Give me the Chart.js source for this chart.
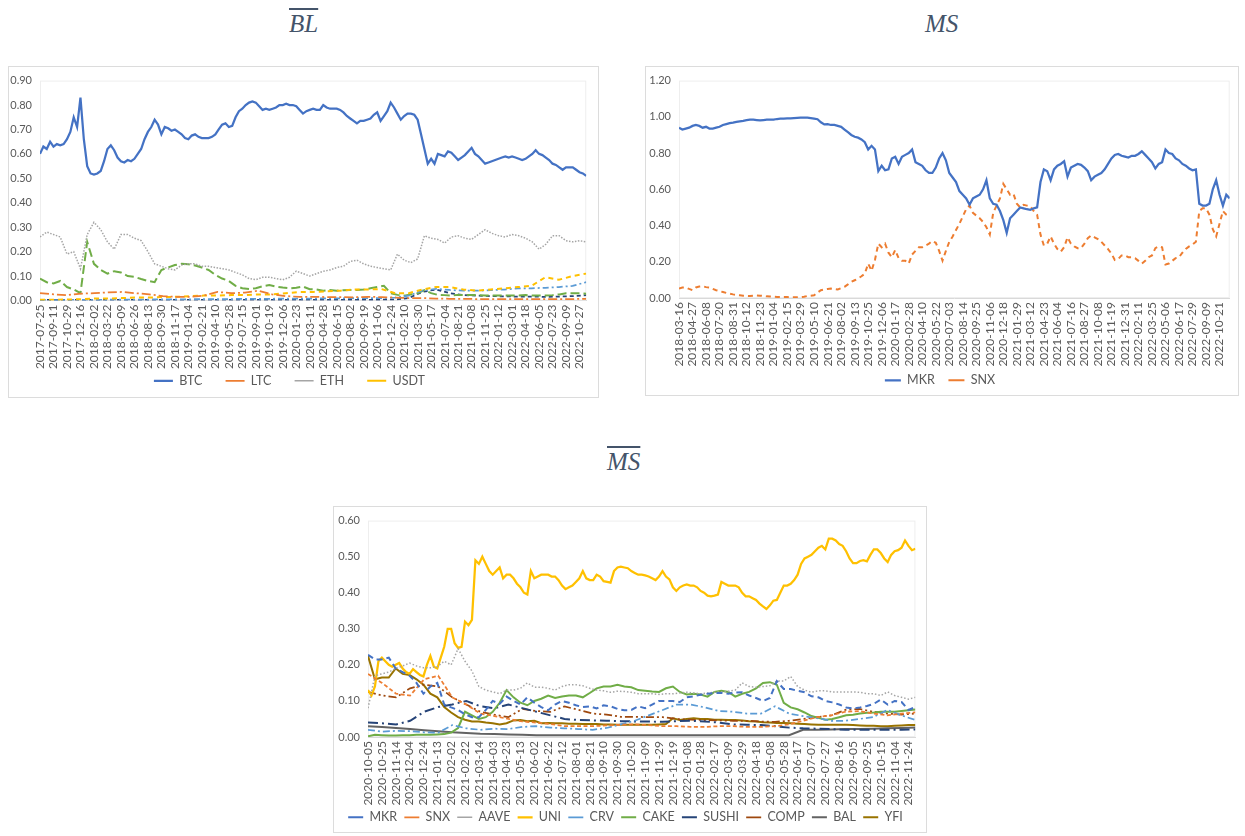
<!DOCTYPE html>
<html lang="en">

<head>
    <meta charset="UTF-8" />
    <title>BL / MS / MS panels</title>
    <script src="https://cdn.jsdelivr.net/npm/chart.js"></script>
    <style>
        body {
            margin: 0;
            background: #ffffff;
            width: 1245px;
            height: 836px;
            position: relative;
            overflow: hidden;
        }

        .box {
            position: absolute;
            border: 1px solid #dcdcdc;
            box-sizing: border-box;
            background: #ffffff;
        }

        canvas {
            position: absolute;
        }

        .ttl {
            position: absolute;
            font-family: "Liberation Serif", serif;
            font-style: italic;
            font-size: 25px;
            color: #44546a;
            line-height: 1;
        }

        .ttl span {
            text-decoration: overline;
            text-decoration-thickness: 2px;
        }
    </style>
</head>

<body>
    <div class="ttl" style="left:289px; top:11px"><span>BL</span></div>
    <div class="ttl" style="left:925px; top:11px">MS</div>
    <div class="ttl" style="left:607px; top:449px"><span>MS</span></div>

    <div class="box" style="left:8px; top:66px; width:591px; height:332px"></div>
    <div class="box" style="left:645px; top:66px; width:594px; height:330px"></div>
    <div class="box" style="left:333px; top:506px; width:594px; height:327px"></div>

    <canvas id="blChart" width="590" height="331" style="left:8px; top:66px"></canvas>
    <canvas id="msChart" width="593" height="331" style="left:645px; top:66px"></canvas>
    <canvas id="msBarChart" width="594" height="330" style="left:333px; top:506px"></canvas>

    <script>
        const FONT = "Lato, 'Liberation Sans', sans-serif";

        // ---- BL panel (48-day tick spacing) ----
        const blLabels = ['2017-07-25', '2017-09-11', '2017-10-29', '2017-12-16', '2018-02-02', '2018-03-22', '2018-05-09',
            '2018-06-26', '2018-08-13', '2018-09-30', '2018-11-17', '2019-01-04', '2019-02-21', '2019-04-10', '2019-05-28',
            '2019-07-15', '2019-09-01', '2019-10-19', '2019-12-06', '2020-01-23', '2020-03-11', '2020-04-28', '2020-06-15',
            '2020-08-02', '2020-09-19', '2020-11-06', '2020-12-24', '2021-02-10', '2021-03-30', '2021-05-17', '2021-07-04',
            '2021-08-21', '2021-10-08', '2021-11-25', '2022-01-12', '2022-03-01', '2022-04-18', '2022-06-05', '2022-07-23',
            '2022-09-09', '2022-10-27'];
        const blEnd = 40.5;

        const btc = [0.60, 0.63, 0.62, 0.65, 0.63, 0.64, 0.635, 0.64, 0.66, 0.69, 0.75, 0.71, 0.83, 0.66, 0.55, 0.52, 0.515, 0.52, 0.53, 0.57,
            0.62, 0.635, 0.615, 0.585, 0.57, 0.565, 0.575, 0.57, 0.58, 0.60, 0.62, 0.66, 0.69, 0.71, 0.74, 0.72, 0.68, 0.71, 0.705, 0.695,
            0.70, 0.69, 0.68, 0.665, 0.66, 0.675, 0.68, 0.67, 0.665, 0.665, 0.665, 0.67, 0.68, 0.70, 0.72, 0.725, 0.71, 0.715, 0.75, 0.775,
            0.785, 0.80, 0.81, 0.815, 0.81, 0.795, 0.78, 0.785, 0.78, 0.785, 0.79, 0.80, 0.80, 0.805, 0.80, 0.80, 0.795, 0.78, 0.765, 0.775,
            0.78, 0.785, 0.78, 0.78, 0.80, 0.79, 0.785, 0.785, 0.785, 0.78, 0.77, 0.755, 0.745, 0.735, 0.725, 0.735, 0.735, 0.74, 0.745, 0.76,
            0.77, 0.735, 0.755, 0.775, 0.81, 0.79, 0.765, 0.74, 0.755, 0.765, 0.765, 0.76, 0.74, 0.68, 0.62, 0.56, 0.58, 0.56, 0.60, 0.595,
            0.59, 0.61, 0.605, 0.59, 0.575, 0.585, 0.595, 0.61, 0.625, 0.60, 0.59, 0.575, 0.56, 0.565, 0.57, 0.575, 0.58, 0.585, 0.59, 0.585,
            0.59, 0.585, 0.58, 0.575, 0.58, 0.59, 0.60, 0.615, 0.60, 0.595, 0.585, 0.575, 0.56, 0.555, 0.545, 0.535, 0.545, 0.545, 0.545, 0.535,
            0.525, 0.52, 0.51];
        const ltc = [0.030, 0.025, 0.022, 0.028, 0.030, 0.033, 0.035, 0.030, 0.025, 0.018,
            0.015, 0.015, 0.020, 0.035, 0.030, 0.032, 0.040, 0.025, 0.018, 0.015,
            0.015, 0.014, 0.014, 0.013, 0.015, 0.014, 0.012, 0.010, 0.010, 0.008,
            0.007, 0.007, 0.006, 0.006, 0.006, 0.006, 0.006, 0.006, 0.006, 0.006, 0.007];
        const eth = [0.26, 0.28, 0.27, 0.26, 0.19, 0.20, 0.13, 0.27, 0.32, 0.29, 0.24, 0.21, 0.27, 0.27, 0.255, 0.245, 0.20, 0.15, 0.14, 0.13,
            0.125, 0.145, 0.15, 0.15, 0.14, 0.14, 0.135, 0.13, 0.125, 0.115, 0.105, 0.09, 0.085, 0.095, 0.095, 0.09, 0.085, 0.095, 0.12, 0.11,
            0.10, 0.11, 0.12, 0.125, 0.135, 0.14, 0.16, 0.165, 0.15, 0.14, 0.135, 0.13, 0.125, 0.19, 0.165, 0.155, 0.17, 0.265, 0.255, 0.25,
            0.235, 0.26, 0.265, 0.255, 0.25, 0.27, 0.29, 0.275, 0.265, 0.26, 0.27, 0.265, 0.255, 0.24, 0.21, 0.23, 0.265, 0.265, 0.245, 0.24,
            0.245, 0.24];
        const usdt = [0.003, 0.003, 0.004, 0.005, 0.008, 0.008, 0.010, 0.012, 0.012, 0.014,
            0.015, 0.018, 0.02, 0.02, 0.022, 0.022, 0.025, 0.025, 0.03, 0.035,
            0.035, 0.038, 0.04, 0.045, 0.045, 0.047, 0.03, 0.03, 0.045, 0.055,
            0.055, 0.045, 0.04, 0.045, 0.05, 0.055, 0.06, 0.095, 0.085, 0.10, 0.11];
        const blFifth = [0.002, 0.002, 0.002, 0.003, 0.003, 0.003, 0.004, 0.004, 0.004, 0.005,
            0.005, 0.005, 0.006, 0.006, 0.006, 0.007, 0.007, 0.007, 0.008, 0.008,
            0.008, 0.009, 0.009, 0.01, 0.01, 0.01, 0.012, 0.02, 0.04, 0.048,
            0.043, 0.04, 0.04, 0.042, 0.045, 0.05, 0.05, 0.052, 0.055, 0.06, 0.075];
        const blSixth = [0.09, 0.075, 0.07, 0.08, 0.055, 0.045, 0.03, 0.24, 0.15, 0.125, 0.11, 0.12, 0.115, 0.10, 0.097, 0.088, 0.08, 0.075, 0.125, 0.135,
            0.145, 0.15, 0.148, 0.143, 0.135, 0.125, 0.105, 0.09, 0.08, 0.06, 0.05, 0.047, 0.05, 0.058, 0.063, 0.057, 0.053, 0.05, 0.052, 0.057,
            0.046, 0.045, 0.04, 0.043, 0.04, 0.042, 0.043, 0.043, 0.045, 0.05, 0.055, 0.06, 0.03, 0.023, 0.02, 0.025, 0.03, 0.043, 0.03, 0.023,
            0.022, 0.02, 0.023, 0.023, 0.023, 0.022, 0.02, 0.02, 0.02, 0.02, 0.02, 0.02, 0.022, 0.02, 0.02, 0.02, 0.022, 0.025, 0.03, 0.03,
            0.03, 0.028];
        const blSeventh = [0.003, 0.003, 0.003, 0.003, 0.003, 0.003, 0.003, 0.003, 0.003, 0.003,
            0.003, 0.003, 0.003, 0.003, 0.003, 0.003, 0.003, 0.003, 0.003, 0.003,
            0.003, 0.003, 0.003, 0.003, 0.003, 0.003, 0.004, 0.01, 0.035, 0.045,
            0.03, 0.022, 0.02, 0.018, 0.017, 0.016, 0.016, 0.015, 0.016, 0.018, 0.022];

        // ---- MS panel (42-day tick spacing) ----
        const msLabels = ['2018-03-16', '2018-04-27', '2018-06-08', '2018-07-20', '2018-08-31', '2018-10-12', '2018-11-23',
            '2019-01-04', '2019-02-15', '2019-03-29', '2019-05-10', '2019-06-21', '2019-08-02', '2019-09-13', '2019-10-25',
            '2019-12-06', '2020-01-17', '2020-02-28', '2020-04-10', '2020-05-22', '2020-07-03', '2020-08-14', '2020-09-25',
            '2020-11-06', '2020-12-18', '2021-01-29', '2021-03-12', '2021-04-23', '2021-06-04', '2021-07-16', '2021-08-27',
            '2021-10-08', '2021-11-19', '2021-12-31', '2022-02-11', '2022-03-25', '2022-05-06', '2022-06-17', '2022-07-29',
            '2022-09-09', '2022-10-21'];
        const msEnd = 40.75;

        const mkr = [0.94, 0.93, 0.935, 0.94, 0.95, 0.955, 0.95, 0.94, 0.945, 0.935, 0.935, 0.94, 0.945, 0.955, 0.96, 0.965, 0.968, 0.972, 0.975, 0.978,
            0.982, 0.985, 0.984, 0.982, 0.98, 0.982, 0.984, 0.985, 0.985, 0.988, 0.99, 0.99, 0.991, 0.992, 0.993, 0.994, 0.995, 0.996, 0.995, 0.993,
            0.99, 0.987, 0.97, 0.958, 0.96, 0.955, 0.955, 0.95, 0.945, 0.93, 0.915, 0.90, 0.89, 0.885, 0.875, 0.86, 0.82, 0.84, 0.82, 0.70,
            0.73, 0.705, 0.71, 0.77, 0.78, 0.74, 0.78, 0.79, 0.80, 0.82, 0.75, 0.74, 0.73, 0.705, 0.69, 0.69, 0.72, 0.77, 0.80, 0.76,
            0.69, 0.665, 0.64, 0.59, 0.57, 0.55, 0.515, 0.55, 0.56, 0.57, 0.60, 0.65, 0.55, 0.52, 0.515, 0.48, 0.43, 0.36, 0.44, 0.46,
            0.48, 0.50, 0.495, 0.49, 0.487, 0.495, 0.50, 0.64, 0.71, 0.70, 0.65, 0.71, 0.73, 0.74, 0.755, 0.67, 0.72, 0.73, 0.74, 0.735,
            0.72, 0.70, 0.65, 0.67, 0.68, 0.69, 0.71, 0.74, 0.77, 0.79, 0.795, 0.785, 0.78, 0.775, 0.785, 0.785, 0.795, 0.81, 0.79, 0.77,
            0.75, 0.715, 0.74, 0.75, 0.82, 0.80, 0.795, 0.77, 0.76, 0.74, 0.73, 0.715, 0.705, 0.71, 0.52, 0.51, 0.51, 0.52, 0.60, 0.65,
            0.57, 0.51, 0.57, 0.55];
        const snx = [0.052, 0.058, 0.058, 0.05, 0.043, 0.058, 0.063, 0.065, 0.06, 0.058, 0.05, 0.043, 0.038, 0.033, 0.028, 0.024, 0.02, 0.017, 0.015, 0.013,
            0.012, 0.011, 0.012, 0.014, 0.013, 0.011, 0.009, 0.008, 0.007, 0.006, 0.006, 0.005, 0.005, 0.004, 0.004, 0.004, 0.005, 0.007, 0.011, 0.013,
            0.015, 0.03, 0.043, 0.047, 0.05, 0.052, 0.05, 0.047, 0.055, 0.062, 0.075, 0.089, 0.098, 0.107, 0.12, 0.134, 0.19, 0.15, 0.21, 0.30,
            0.28, 0.30, 0.25, 0.225, 0.265, 0.22, 0.205, 0.205, 0.19, 0.24, 0.26, 0.28, 0.28, 0.29, 0.30, 0.315, 0.305, 0.26, 0.206, 0.26,
            0.31, 0.34, 0.375, 0.41, 0.45, 0.49, 0.51, 0.47, 0.455, 0.44, 0.42, 0.39, 0.35, 0.47, 0.51, 0.55, 0.63, 0.60, 0.57, 0.575,
            0.52, 0.50, 0.514, 0.51, 0.505, 0.48, 0.46, 0.35, 0.29, 0.30, 0.34, 0.30, 0.27, 0.255, 0.28, 0.335, 0.30, 0.285, 0.275, 0.275,
            0.30, 0.33, 0.345, 0.335, 0.325, 0.31, 0.29, 0.27, 0.245, 0.21, 0.215, 0.235, 0.235, 0.225, 0.225, 0.22, 0.205, 0.19, 0.205, 0.225,
            0.235, 0.275, 0.285, 0.28, 0.185, 0.19, 0.205, 0.22, 0.225, 0.25, 0.27, 0.285, 0.295, 0.31, 0.48, 0.495, 0.495, 0.46, 0.38, 0.34,
            0.41, 0.48, 0.46, 0.45];

        // ---- MS-bar panel (20-day tick spacing) ----
        const msbLabels = ['2020-10-05', '2020-10-25', '2020-11-14', '2020-12-04', '2020-12-24', '2021-01-13', '2021-02-02',
            '2021-02-22', '2021-03-14', '2021-04-03', '2021-04-23', '2021-05-13', '2021-06-02', '2021-06-22', '2021-07-12',
            '2021-08-01', '2021-08-21', '2021-09-10', '2021-09-30', '2021-10-20', '2021-11-09', '2021-11-29', '2021-12-19',
            '2022-01-08', '2022-01-28', '2022-02-17', '2022-03-09', '2022-03-29', '2022-04-18', '2022-05-08', '2022-05-28',
            '2022-06-17', '2022-07-07', '2022-07-27', '2022-08-16', '2022-09-05', '2022-09-25', '2022-10-15', '2022-11-04',
            '2022-11-24'];
        const msbEnd = 39.5;

        const bMkr = [0.228, 0.215, 0.215, 0.22, 0.19, 0.18, 0.17, 0.15, 0.12, 0.14, 0.15, 0.09, 0.082, 0.075, 0.063, 0.055, 0.055, 0.075, 0.10, 0.092,
            0.112, 0.10, 0.09, 0.11, 0.095, 0.083, 0.074, 0.09, 0.10, 0.095, 0.088, 0.083, 0.085, 0.079, 0.088, 0.085, 0.078, 0.074, 0.075, 0.085,
            0.08, 0.09, 0.10, 0.10, 0.10, 0.097, 0.11, 0.113, 0.117, 0.12, 0.122, 0.122, 0.12, 0.123, 0.124, 0.115, 0.108, 0.10, 0.108, 0.155,
            0.133, 0.133, 0.128, 0.124, 0.113, 0.11, 0.10, 0.096, 0.09, 0.082, 0.079, 0.082, 0.086, 0.092, 0.104, 0.09, 0.10, 0.097, 0.075, 0.083];
        const bSnx = [0.175, 0.15, 0.12, 0.115, 0.16, 0.17, 0.11, 0.09, 0.065, 0.058,
            0.05, 0.043, 0.04, 0.036, 0.03, 0.03, 0.03, 0.032, 0.034, 0.035,
            0.033, 0.03, 0.03, 0.028, 0.028, 0.03, 0.03, 0.028, 0.028, 0.03,
            0.035, 0.045, 0.055, 0.06, 0.07, 0.072, 0.065, 0.06, 0.065, 0.068];
        const bAave = [0.08, 0.17, 0.175, 0.18, 0.19, 0.197, 0.205, 0.197, 0.192, 0.192, 0.195, 0.21, 0.20, 0.245, 0.21, 0.183, 0.14, 0.13, 0.125, 0.12,
            0.13, 0.13, 0.135, 0.15, 0.138, 0.138, 0.135, 0.13, 0.14, 0.145, 0.145, 0.142, 0.135, 0.13, 0.128, 0.124, 0.127, 0.126, 0.124, 0.12,
            0.12, 0.12, 0.118, 0.12, 0.12, 0.122, 0.124, 0.122, 0.12, 0.122, 0.124, 0.125, 0.127, 0.13, 0.15, 0.14, 0.138, 0.14, 0.142, 0.155,
            0.155, 0.168, 0.14, 0.13, 0.124, 0.128, 0.128, 0.125, 0.125, 0.125, 0.125, 0.124, 0.12, 0.12, 0.115, 0.125, 0.115, 0.11, 0.105, 0.11];
        const bUni = [0.13, 0.115, 0.14, 0.21, 0.22, 0.21, 0.20, 0.195, 0.20, 0.205, 0.19, 0.18, 0.175, 0.188, 0.18, 0.172, 0.168, 0.20, 0.225, 0.195,
            0.19, 0.22, 0.25, 0.30, 0.30, 0.26, 0.247, 0.25, 0.32, 0.31, 0.325, 0.49, 0.48, 0.50, 0.48, 0.46, 0.45, 0.46, 0.47, 0.44,
            0.45, 0.45, 0.44, 0.425, 0.415, 0.40, 0.395, 0.46, 0.44, 0.445, 0.45, 0.45, 0.45, 0.445, 0.445, 0.435, 0.42, 0.41, 0.415, 0.42,
            0.43, 0.44, 0.46, 0.44, 0.435, 0.435, 0.45, 0.445, 0.432, 0.43, 0.428, 0.46, 0.47, 0.472, 0.47, 0.468, 0.46, 0.455, 0.45, 0.45,
            0.448, 0.445, 0.44, 0.435, 0.445, 0.46, 0.445, 0.437, 0.415, 0.405, 0.415, 0.42, 0.423, 0.42, 0.42, 0.415, 0.405, 0.40, 0.392, 0.39,
            0.392, 0.395, 0.43, 0.425, 0.42, 0.42, 0.42, 0.415, 0.40, 0.39, 0.39, 0.385, 0.38, 0.37, 0.362, 0.355, 0.365, 0.378, 0.38, 0.40,
            0.42, 0.42, 0.425, 0.435, 0.45, 0.48, 0.495, 0.50, 0.505, 0.515, 0.525, 0.53, 0.52, 0.55, 0.55, 0.545, 0.535, 0.53, 0.515, 0.495,
            0.482, 0.482, 0.488, 0.49, 0.487, 0.505, 0.52, 0.52, 0.51, 0.495, 0.485, 0.505, 0.515, 0.518, 0.525, 0.545, 0.53, 0.518, 0.522];
        const bCrv = [0.02, 0.015, 0.017, 0.016, 0.013, 0.012, 0.033, 0.024, 0.02, 0.023,
            0.022, 0.028, 0.03, 0.026, 0.024, 0.022, 0.02, 0.025, 0.035, 0.045,
            0.06, 0.075, 0.09, 0.09, 0.082, 0.072, 0.07, 0.065, 0.065, 0.085,
            0.065, 0.058, 0.052, 0.045, 0.045, 0.05, 0.055, 0.075, 0.06, 0.047];
        const bCake = [0.002, 0.006, 0.005, 0.004, 0.004, 0.005, 0.005, 0.006, 0.006, 0.006, 0.007, 0.008, 0.012, 0.025, 0.07, 0.06, 0.05, 0.055, 0.07, 0.095,
            0.13, 0.11, 0.095, 0.088, 0.10, 0.106, 0.115, 0.108, 0.112, 0.115, 0.115, 0.11, 0.122, 0.135, 0.14, 0.14, 0.145, 0.14, 0.138, 0.13,
            0.128, 0.126, 0.125, 0.135, 0.14, 0.125, 0.118, 0.12, 0.118, 0.112, 0.125, 0.128, 0.125, 0.112, 0.12, 0.125, 0.135, 0.15, 0.152, 0.145,
            0.095, 0.082, 0.077, 0.068, 0.058, 0.053, 0.048, 0.05, 0.055, 0.06, 0.062, 0.065, 0.067, 0.068, 0.07, 0.07, 0.07, 0.072, 0.074, 0.076];
        const bSushi = [0.04, 0.038, 0.035, 0.045, 0.07, 0.083, 0.09, 0.10, 0.085, 0.08,
            0.09, 0.08, 0.07, 0.06, 0.05, 0.047, 0.046, 0.045, 0.044, 0.043,
            0.043, 0.042, 0.044, 0.045, 0.043, 0.04, 0.035, 0.034, 0.033, 0.03,
            0.026, 0.024, 0.023, 0.022, 0.02, 0.02, 0.02, 0.02, 0.02, 0.021];
        const bComp = [0.125, 0.115, 0.11, 0.135, 0.145, 0.14, 0.11, 0.09, 0.07, 0.062,
            0.055, 0.078, 0.072, 0.07, 0.085, 0.075, 0.065, 0.062, 0.056, 0.056,
            0.055, 0.055, 0.05, 0.048, 0.047, 0.046, 0.045, 0.045, 0.043, 0.042,
            0.045, 0.05, 0.055, 0.06, 0.075, 0.078, 0.07, 0.065, 0.062, 0.065];
        const bBal = [0.03, 0.028, 0.025, 0.022, 0.019, 0.016, 0.013, 0.011, 0.009, 0.008,
            0.007, 0.006, 0.005, 0.005, 0.005, 0.005, 0.005, 0.005, 0.005, 0.005,
            0.005, 0.005, 0.005, 0.005, 0.005, 0.005, 0.005, 0.005, 0.005, 0.005,
            0.005, 0.02, 0.02, 0.021, 0.022, 0.022, 0.023, 0.024, 0.025, 0.026];
        const bYfi = [0.225, 0.16, 0.165, 0.165, 0.19, 0.175, 0.172, 0.16, 0.145, 0.12, 0.11, 0.083, 0.068, 0.055, 0.048, 0.043, 0.043, 0.04, 0.038, 0.035,
            0.038, 0.046, 0.047, 0.044, 0.045, 0.038, 0.039, 0.038, 0.038, 0.037, 0.037, 0.036, 0.036, 0.036, 0.035, 0.035, 0.034, 0.034, 0.034, 0.034,
            0.034, 0.034, 0.035, 0.036, 0.052, 0.047, 0.05, 0.052, 0.05, 0.05, 0.048, 0.048, 0.047, 0.047, 0.046, 0.044, 0.043, 0.041, 0.04, 0.039,
            0.039, 0.038, 0.037, 0.036, 0.035, 0.034, 0.034, 0.034, 0.034, 0.034, 0.033, 0.032, 0.031, 0.031, 0.03, 0.03, 0.031, 0.032, 0.033, 0.033];

        // spread a series evenly over the category range [0, end]
        function pts(values, end) {
            return values.map((v, k) => ({ x: k * end / (values.length - 1), y: v }));
        }

        function line(label, values, end, color, width, dash) {
            return {
                label: label,
                data: pts(values, end),
                borderColor: color,
                backgroundColor: color,
                borderWidth: width,
                borderDash: dash || [],
                pointRadius: 0,
                tension: 0,
                fill: false
            };
        }

        // faint plot-area frame like the spreadsheet default
        const plotFrame = {
            id: 'plotFrame',
            beforeDatasetsDraw(chart) {
                const { ctx, chartArea: a } = chart;
                ctx.save();
                ctx.strokeStyle = '#eeeeee';
                ctx.lineWidth = 1;
                ctx.strokeRect(a.left + 0.5, a.top + 0.5, a.width - 1, a.height - 1);
                ctx.restore();
            }
        };

        function makeChart(id, datasets, cfg) {
            const ctx = document.getElementById(id).getContext('2d');
            const gap = ' '.repeat(cfg.gapSpaces);
            return new Chart(ctx, {
                type: 'line',
                data: { datasets: datasets },
                plugins: [plotFrame],
                options: {
                    responsive: false,
                    animation: false,
                    layout: { padding: cfg.pad },
                    plugins: {
                        legend: {
                            position: 'bottom',
                            labels: {
                                usePointStyle: true,
                                pointStyle: 'line',
                                pointStyleWidth: cfg.sampleW,
                                boxHeight: 12,
                                padding: 4,
                                color: '#595959',
                                font: { family: FONT, size: 12.5 },
                                // trailing spaces widen the gap between entries only
                                generateLabels: chart => Chart.defaults.plugins.legend.labels.generateLabels(chart)
                                    .map((it, k, all) => Object.assign(it, { text: k < all.length - 1 ? it.text + gap : it.text })),
                                filter: cfg.legendFilter || (() => true)
                            }
                        },
                        tooltip: { enabled: false }
                    },
                    scales: {
                        x: {
                            type: 'linear',
                            min: 0,
                            max: cfg.end,
                            grid: { display: false, drawTicks: false },
                            border: { color: '#d9d9d9' },
                            afterBuildTicks: s => { s.ticks = cfg.labels.map((l, i) => ({ value: i })); },
                            afterFit: s => { s.height = cfg.xAxisH; },
                            ticks: {
                                autoSkip: false,
                                maxRotation: 90,
                                minRotation: 90,
                                padding: 4,
                                color: '#595959',
                                font: { family: FONT, size: 12 },
                                callback: (v, i) => cfg.labels[i]
                            }
                        },
                        y: {
                            min: 0,
                            max: cfg.yMax,
                            grid: { display: false, drawTicks: false },
                            border: { display: false },
                            afterFit: s => { s.width = cfg.yAxisW; },
                            ticks: {
                                stepSize: cfg.yStep,
                                padding: 8,
                                color: '#595959',
                                font: { family: FONT, size: 11 },
                                callback: v => v.toFixed(2)
                            }
                        }
                    }
                }
            });
        }

        makeChart('blChart', [
            line('BTC', btc, blEnd, '#4472C4', 2.25),
            line('LTC', ltc, blEnd, '#ED7D31', 1.75, [9, 3, 2, 3]),
            line('ETH', eth, blEnd, '#A5A5A5', 1.5, [1.5, 1.5]),
            line('USDT', usdt, blEnd, '#FFC000', 2, [5, 4]),
            line('S5', blFifth, blEnd, '#5B9BD5', 1.75, [6, 3, 2, 3]),
            line('S6', blSixth, blEnd, '#70AD47', 2, [9, 4]),
            line('S7', blSeventh, blEnd, '#264478', 1.75, [4, 3])
        ], {
            labels: blLabels, end: blEnd, yMax: 0.9, yStep: 0.1,
            pad: { left: 0, right: 8, top: 12, bottom: 0 },
            yAxisW: 32, xAxisH: 70, sampleW: 19, gapSpaces: 6,
            legendFilter: item => item.datasetIndex < 4
        });

        makeChart('msChart', [
            line('MKR', mkr, msEnd, '#4472C4', 2.25),
            line('SNX', snx, msEnd, '#ED7D31', 2, [5, 4])
        ], {
            labels: msLabels, end: msEnd, yMax: 1.2, yStep: 0.2,
            pad: { left: 0, right: 3, top: 11, bottom: 0.5 },
            yAxisW: 34, xAxisH: 72, sampleW: 16, gapSpaces: 3
        });

        makeChart('msBarChart', [
            line('MKR', bMkr, msbEnd, '#4472C4', 2, [6, 4]),
            line('SNX', bSnx, msbEnd, '#ED7D31', 1.75, [4, 2.5]),
            line('AAVE', bAave, msbEnd, '#A5A5A5', 1.5, [1.5, 2]),
            line('UNI', bUni, msbEnd, '#FFC000', 2.25),
            line('CRV', bCrv, msbEnd, '#5B9BD5', 1.75, [7, 3, 2, 3]),
            line('CAKE', bCake, msbEnd, '#70AD47', 2),
            line('SUSHI', bSushi, msbEnd, '#264478', 2, [10, 4, 2, 4]),
            line('COMP', bComp, msbEnd, '#9E480E', 1.75, [8, 3, 2, 3, 2, 3]),
            line('BAL', bBal, msbEnd, '#636363', 2),
            line('YFI', bYfi, msbEnd, '#997300', 2)
        ], {
            labels: msbLabels, end: msbEnd, yMax: 0.6, yStep: 0.1,
            pad: { left: 0, right: 9, top: 11, bottom: 2.5 },
            yAxisW: 35, xAxisH: 70, sampleW: 15, gapSpaces: 1
        });
    </script>
</body>

</html>
